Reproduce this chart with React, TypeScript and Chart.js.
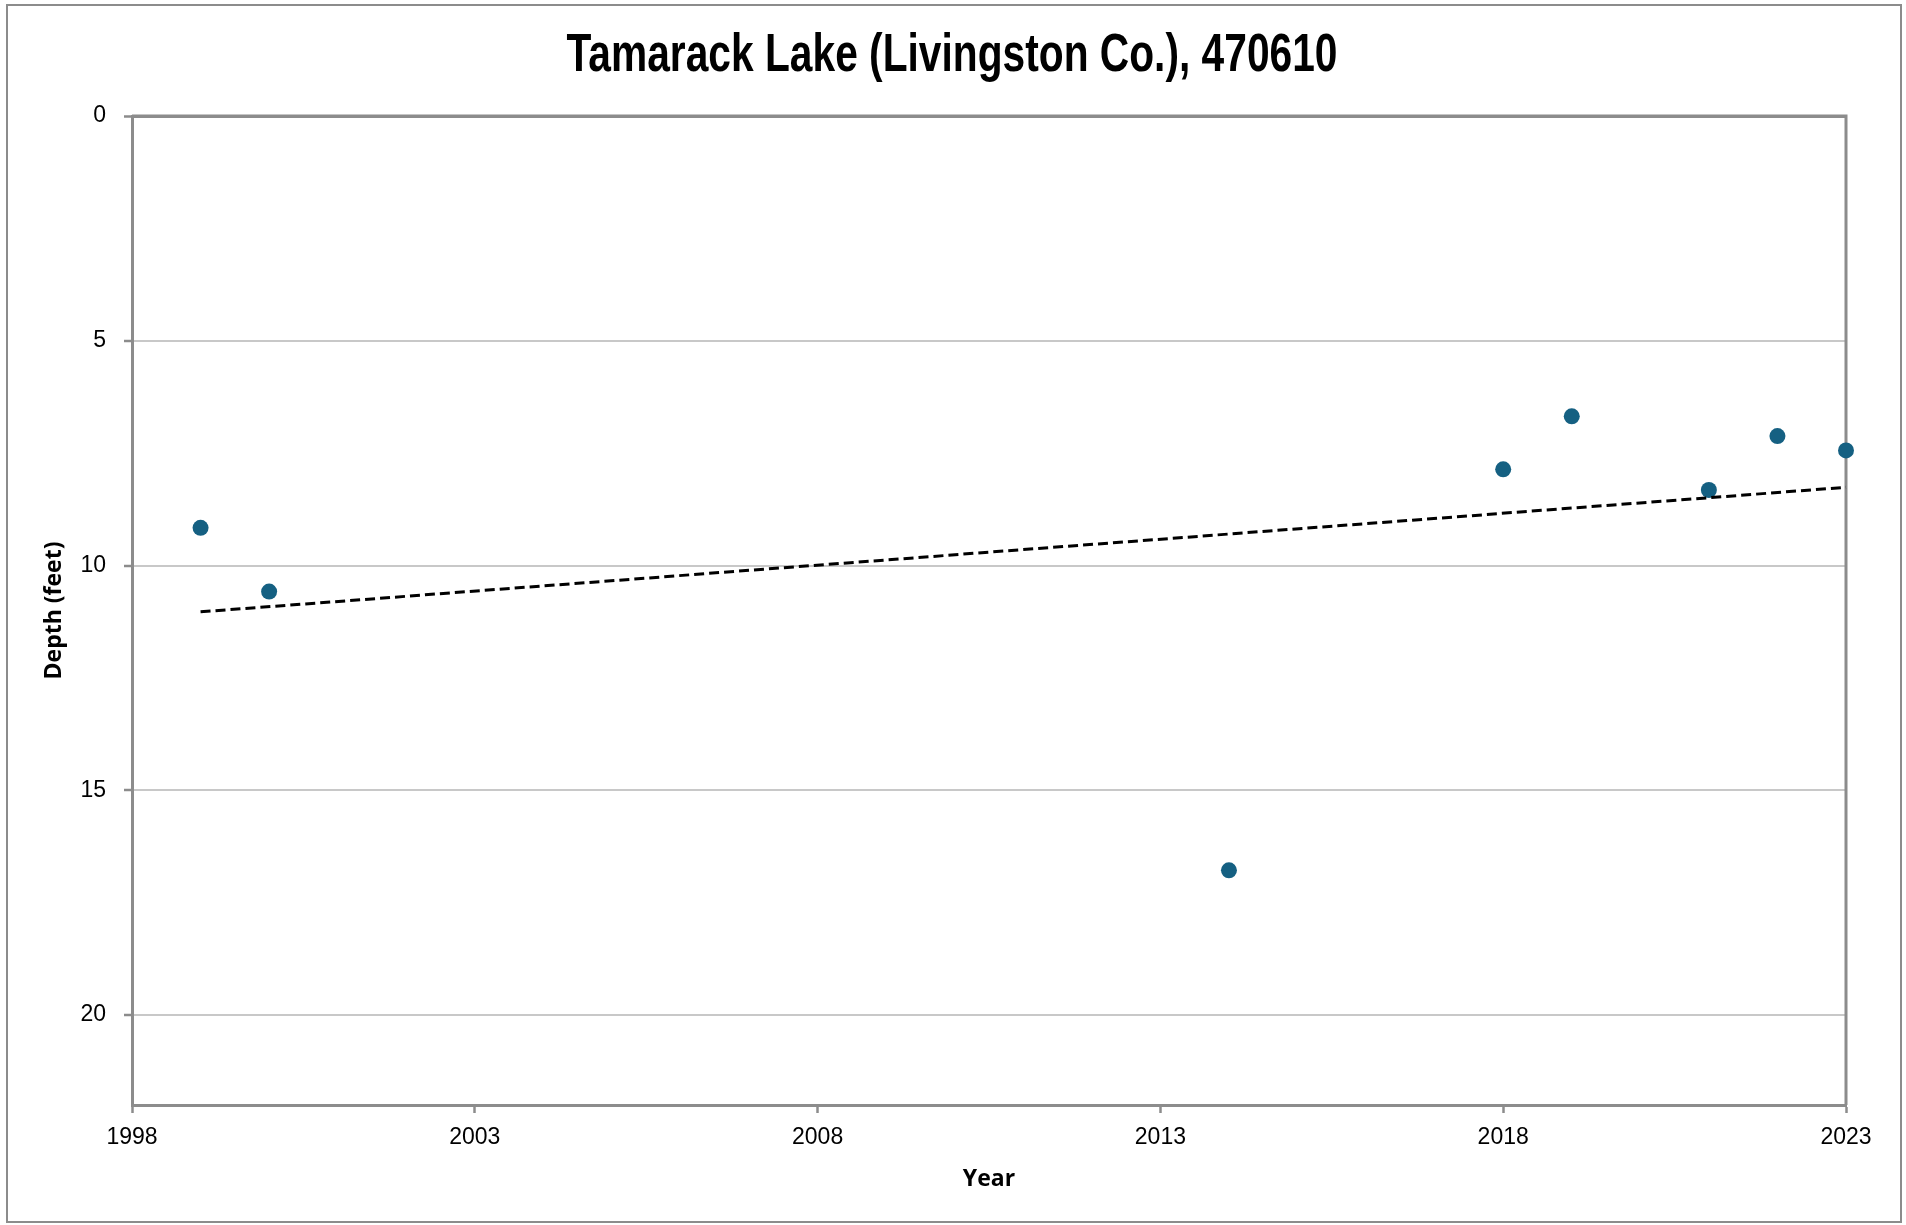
import React, { useEffect, useRef } from "react";
import { Chart, registerables } from "chart.js";

Chart.register(...registerables);

const years = [1999, 2000, 2014, 2018, 2019, 2021, 2022, 2023];
const depths = [9.16, 10.58, 16.78, 7.86, 6.68, 8.32, 7.12, 7.44];
const trendYears = [1999, 2023];
const trendDepths = [11.03, 8.26];
const xTickValues = [1998, 2003, 2008, 2013, 2018, 2023];
const yTickValues = [0, 5, 10, 15, 20];

const TITLE = "Tamarack Lake (Livingston Co.), 470610";
const DARK = "#8c8c8c";
const LIGHT = "#c8c8c8";

const framePlugin = {
  id: "frame",
  beforeDraw(chart: any) {
    const { ctx, width, height } = chart;
    ctx.save();
    ctx.fillStyle = "#ffffff";
    ctx.fillRect(0, 0, width, height);
    ctx.strokeStyle = DARK;
    ctx.lineWidth = 2;
    ctx.strokeRect(7, 5, width - 12, height - 8);
    ctx.restore();
  },
  beforeDatasetsDraw(chart: any) {
    const { ctx, chartArea } = chart;
    ctx.save();
    ctx.strokeStyle = DARK;
    ctx.lineWidth = 3;
    ctx.beginPath();
    ctx.moveTo(chartArea.left, chartArea.top);
    ctx.lineTo(chartArea.right, chartArea.top);
    ctx.lineTo(chartArea.right, chartArea.bottom);
    ctx.stroke();
    ctx.restore();
  },
  afterDraw(chart: any) {
    const { ctx } = chart;
    ctx.save();
    ctx.font = "bold 54px 'Liberation Sans', Arial, sans-serif";
    ctx.fillStyle = "#000000";
    ctx.textAlign = "center";
    ctx.textBaseline = "middle";
    const w = ctx.measureText(TITLE).width;
    const sx = 771 / w;
    ctx.translate(952, 56);
    ctx.scale(sx, 1);
    ctx.fillText(TITLE, 0, 0);
    ctx.restore();
  },
};

export default function App() {
  const ref = useRef<HTMLCanvasElement | null>(null);
  useEffect(() => {
    if (!ref.current) return;
    const chart = new Chart(ref.current, {
      type: "scatter",
      data: {
        datasets: [
          {
            type: "line",
            label: "Trend",
            data: trendYears.map((x, i) => ({ x, y: trendDepths[i] })),
            borderColor: "#000000",
            borderWidth: 3,
            borderDash: [10, 5],
            pointRadius: 0,
            fill: false,
            order: 0,
            clip: false as any,
          },
          {
            label: "Depth",
            data: years.map((x, i) => ({ x, y: depths[i] })),
            backgroundColor: "#156082",
            borderColor: "#156082",
            borderWidth: 0,
            pointRadius: 8,
            order: 1,
            clip: false as any,
          },
        ],
      },
      options: {
        animation: false,
        responsive: false,
        devicePixelRatio: 1,
        layout: { padding: { left: 0, right: 60, top: 116, bottom: 0 } },
        plugins: {
          legend: { display: false },
          tooltip: { enabled: false },
          title: { display: false },
        },
        scales: {
          x: {
            type: "linear",
            min: 1998,
            max: 2023,
            afterBuildTicks: (scale: any) => {
              scale.ticks = xTickValues.map((v) => ({ value: v }));
            },
            afterFit: (scale: any) => {
              scale.height = 120;
            },
            grid: {
              drawOnChartArea: false,
              drawTicks: true,
              tickLength: 8,
              tickColor: DARK,
              tickWidth: 2.5,
            },
            border: { display: true, color: DARK, width: 3 },
            ticks: {
              color: "#000000",
              padding: 11,
              maxRotation: 0,
              autoSkip: false,
              font: { family: "'Liberation Sans', Arial, sans-serif", size: 23 },
              callback: (v: any) => String(v),
            },
            title: {
              display: true,
              text: "Year",
              color: "#000000",
              font: { family: "'Open Sans', sans-serif", size: 23, weight: "bold" },
              padding: { top: 0, bottom: 32 },
            },
          },
          y: {
            type: "linear",
            min: 0,
            max: 22,
            reverse: true,
            afterBuildTicks: (scale: any) => {
              scale.ticks = yTickValues.map((v) => ({ value: v }));
            },
            afterFit: (scale: any) => {
              scale.width = 132;
            },
            grid: {
              color: (c: any) => (c.tick && c.tick.value === 0 ? DARK : LIGHT),
              lineWidth: (c: any) => (c.tick && c.tick.value === 0 ? 3 : 2),
              drawTicks: true,
              tickLength: 8,
              tickColor: DARK,
              tickWidth: 2.5,
            },
            border: { display: true, color: DARK, width: 3 },
            ticks: {
              color: "#000000",
              padding: 18,
              autoSkip: false,
              font: { family: "'Liberation Sans', Arial, sans-serif", size: 23 },
              callback: (v: any) => String(v),
            },
            title: {
              display: true,
              text: "Depth (feet)",
              color: "#000000",
              font: { family: "'Open Sans', sans-serif", size: 23, weight: "bold" },
              padding: { top: 41, bottom: 0 },
            },
          },
        },
      },
      plugins: [framePlugin],
    } as any);
    return () => chart.destroy();
  }, []);
  return (
    <div style={{ position: "absolute", left: 0, top: 0, width: 1906, height: 1225 }}>
      <canvas ref={ref} width={1906} height={1225} style={{ width: 1906, height: 1225, display: "block" }} />
    </div>
  );
}
